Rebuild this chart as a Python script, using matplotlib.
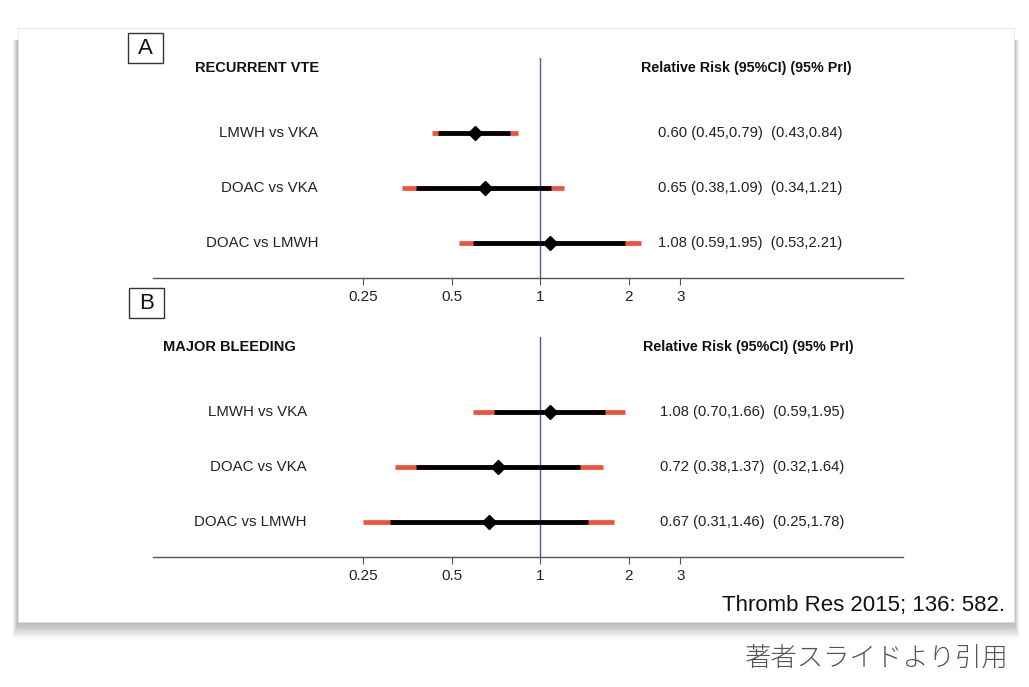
import matplotlib
matplotlib.use("Agg")
import matplotlib.pyplot as plt
from matplotlib.patches import Rectangle
from matplotlib import transforms

plt.rcParams['font.family'] = ['Liberation Sans', 'DejaVu Sans']

# data
comparisons = ['LMWH vs VKA', 'DOAC vs VKA', 'DOAC vs LMWH']

vte_rr = [0.60, 0.65, 1.08]
vte_ci_lo = [0.45, 0.38, 0.59]
vte_ci_hi = [0.79, 1.09, 1.95]
vte_pri_lo = [0.43, 0.34, 0.53]
vte_pri_hi = [0.84, 1.21, 2.21]

bleed_rr = [1.08, 0.72, 0.67]
bleed_ci_lo = [0.70, 0.38, 0.31]
bleed_ci_hi = [1.66, 1.37, 1.46]
bleed_pri_lo = [0.59, 0.32, 0.25]
bleed_pri_hi = [1.95, 1.64, 1.78]

tick_vals = [0.25, 0.5, 1, 2, 3]
tick_labels = ['0.25', '0.5', '1', '2', '3']

W, H = 1029, 687
fig = plt.figure(figsize=(W / 100, H / 100), dpi=100)
fig.patch.set_facecolor('white')


def fx(px):
    return px / W


def fy(py):
    return 1 - py / H


def rect(x0, y0, x1, y1, **kw):
    # pixel box (top-left x0,y0 / bottom-right x1,y1) -> figure rectangle
    return Rectangle((fx(x0), fy(y1)), fx(x1) - fx(x0), fy(y0) - fy(y1),
                     transform=fig.transFigure, **kw)


# soft shadow below the card, then the card itself
for i in range(16):
    off = i * 1.1
    spread = i * 0.35
    fig.patches.append(rect(18 - spread, 40, 1014 + spread, 622 + off,
                            facecolor='black', alpha=0.018, edgecolor='none', zorder=0))
fig.patches.append(rect(18, 28, 1014, 622, facecolor='white', edgecolor='#e2e2e2',
                        lw=0.5, zorder=1))


def panel(top_px, bottom_px, title, title_x, lab_x, val_x, hdr_x,
          rr, ci_lo, ci_hi, pri_lo, pri_hi):
    ax = fig.add_axes([fx(153), fy(bottom_px), fx(903 - 153), fy(top_px) - fy(bottom_px)])
    ax.set_zorder(2)
    ax.patch.set_visible(False)
    ax.set_xscale('log', base=2)
    ax.set_xlim(2 ** ((153 - 540) / 88.5), 2 ** ((903 - 540) / 88.5))
    ax.set_ylim(0.358, 4.38)
    for s in ['top', 'left', 'right']:
        ax.spines[s].set_visible(False)
    ax.spines['bottom'].set_color('#555555')
    ax.spines['bottom'].set_linewidth(1.0)
    ax.set_yticks([])
    ax.set_xticks(tick_vals)
    ax.set_xticklabels(tick_labels)
    ax.xaxis.set_minor_locator(matplotlib.ticker.NullLocator())
    ax.tick_params(axis='x', labelsize=11, length=5, color='#555555', pad=3.5,
                   labelcolor='#222222')
    ax.axvline(1, color='#4a5aa8', lw=1.0, zorder=1)

    ys = [3, 2, 1]
    for y, r, cl, ch, pl, ph in zip(ys, rr, ci_lo, ci_hi, pri_lo, pri_hi):
        ax.plot([pl, ph], [y, y], color='#e8553f', lw=3.4, solid_capstyle='butt', zorder=2)
        ax.plot([cl, ch], [y, y], color='black', lw=3.4, solid_capstyle='butt', zorder=3)
        ax.plot([r], [y], marker='D', color='black', markersize=7, zorder=4)

    tr = transforms.blended_transform_factory(fig.transFigure, ax.transData)
    ax.text(fx(title_x), 4.19, title, transform=tr, fontsize=10.5, fontweight='bold',
            ha='left', va='center', color='#111111')
    ax.text(fx(hdr_x), 4.19, 'Relative Risk (95%CI) (95% PrI)', transform=tr,
            fontsize=10.3, fontweight='bold', ha='left', va='center', color='#111111')
    for y, name, r, cl, ch, pl, ph in zip(ys, comparisons, rr, ci_lo, ci_hi, pri_lo, pri_hi):
        ax.text(fx(lab_x), y, name, transform=tr, fontsize=10.8, ha='right', va='center',
                color='#222222')
        ax.text(fx(val_x), y, f'{r:.2f} ({cl:.2f},{ch:.2f})  ({pl:.2f},{ph:.2f})',
                transform=tr, fontsize=10.6, ha='left', va='center', color='#222222')
    return ax


panel(58, 278, 'RECURRENT VTE', 195, 318, 658, 641,
      vte_rr, vte_ci_lo, vte_ci_hi, vte_pri_lo, vte_pri_hi)
panel(337, 557, 'MAJOR BLEEDING', 163, 307, 660, 643,
      bleed_rr, bleed_ci_lo, bleed_ci_hi, bleed_pri_lo, bleed_pri_hi)

# panel letters in boxes
for letter, x0, y0 in [('A', 128, 33), ('B', 129, 288)]:
    fig.patches.append(rect(x0, y0, x0 + 35, y0 + 30, facecolor='white',
                            edgecolor='#333333', lw=1.0, zorder=3))
    fig.text(fx(x0 + 17.5), fy(y0 + 15.5), letter, fontsize=16, ha='center', va='center',
             color='#111111', zorder=5)

fig.text(fx(1005), fy(605), 'Thromb Res 2015; 136: 582.', fontsize=16,
         family=['Liberation Sans Narrow', 'Liberation Sans'], ha='right', va='center',
         color='#111111', zorder=5)
fig.text(fx(1009), fy(658), '著者スライドより引用', fontsize=19,
         family=['Noto Sans CJK JP', 'DejaVu Sans'], fontweight='light', ha='right', va='center',
         color='#555555', zorder=5)

fig.savefig('out.png', dpi=100)
